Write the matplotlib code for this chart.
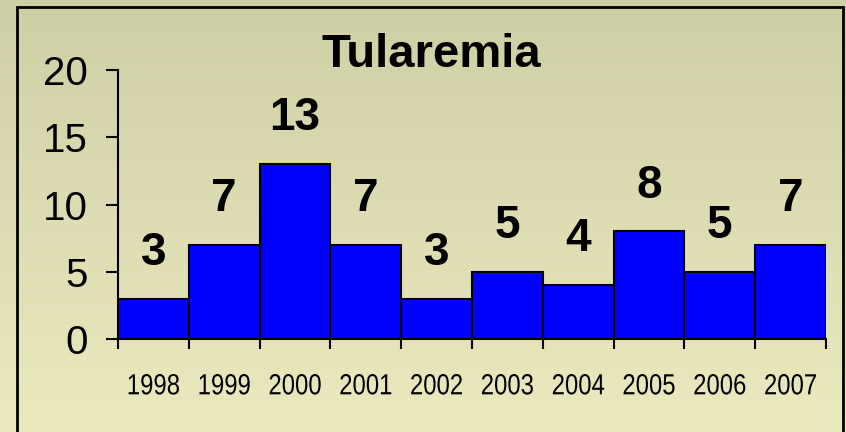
import numpy as np
import matplotlib
matplotlib.use("Agg")
import matplotlib.pyplot as plt
from matplotlib.patches import Rectangle
from matplotlib.patheffects import AbstractPathEffect
from matplotlib.transforms import Affine2D

years = ["1998", "1999", "2000", "2001", "2002", "2003", "2004", "2005", "2006", "2007"]
cases = [3, 7, 13, 7, 3, 5, 4, 8, 5, 7]
yticks = [0, 5, 10, 15, 20]
title = "Tularemia"


class Narrow(AbstractPathEffect):
    """Compress glyphs horizontally about their centre (Arial Narrow look)."""

    def __init__(self, sx=0.82):
        super().__init__()
        self.sx = sx

    def draw_path(self, renderer, gc, tpath, affine, rgbFace=None):
        v = tpath.vertices
        if len(v):
            cx = 0.5 * (v[:, 0].min() + v[:, 0].max())
        else:
            cx = 0.0
        tr = Affine2D().translate(-cx, 0).scale(self.sx, 1).translate(cx, 0) + affine
        renderer.draw_path(gc, tpath, tr, rgbFace)


W, H = 846, 432
fig = plt.figure(figsize=(W / 100, H / 100), dpi=100)

# background gradient
bg = fig.add_axes([0, 0, 1, 1], zorder=-10)
top = np.array([207, 207, 166]) / 255
bot = np.array([235, 233, 190]) / 255
t = np.linspace(0, 1, 256)[:, None]
grad = top[None, :] * (1 - t) + bot[None, :] * t
bg.imshow(grad[:, None, :], aspect="auto", extent=[0, 1, 0, 1], origin="upper")
bg.set_xlim(0, 1); bg.set_ylim(0, 1)
bg.axis("off")
bg.add_patch(Rectangle((17 / W, -0.05), (843 - 17) / W, 1.05 - 7 / H,
                       fill=False, edgecolor="black", linewidth=2))

ax = fig.add_axes([118 / W, 1 - 339 / H, (826 - 118) / W, (339 - 70) / H])
ax.patch.set_alpha(0)
x = np.arange(len(years))
ax.bar(x, cases, width=1.0, color="#0000ff", edgecolor="black", linewidth=1.5)
ax.set_xlim(-0.5, len(years) - 0.5)
ax.set_ylim(0, 20)
for s in ["top", "right"]:
    ax.spines[s].set_visible(False)
for s in ["left", "bottom"]:
    ax.spines[s].set_linewidth(1.5)

ax.set_yticks(yticks)
ax.set_yticklabels([str(v) for v in yticks], fontsize=29, family="Liberation Sans")
ax.tick_params(axis="y", direction="out", length=8.6, width=1.5, pad=13)

ax.set_xticks(np.arange(len(years) + 1) - 0.5)
ax.set_xticklabels([])
ax.tick_params(axis="x", which="major", direction="out", length=7.2, width=1.5)
ax.set_xticks(x, minor=True)
ax.set_xticklabels(years, minor=True, fontsize=21, family="Liberation Sans")
ax.tick_params(axis="x", which="minor", length=0, pad=24)
for lab in ax.xaxis.get_minorticklabels():
    lab.set_path_effects([Narrow(0.82)])

for xi, v in zip(x, cases):
    ax.annotate(str(v), (xi, v), xytext=(0, 33), textcoords="offset points",
                ha="center", va="center", fontsize=33, fontweight="bold",
                family="Liberation Sans")

fig.text(431 / W, 1 - 55 / H, title, ha="center", va="center", fontsize=34,
         fontweight="bold", family="Liberation Sans")

fig.savefig("out.png", dpi=100)
